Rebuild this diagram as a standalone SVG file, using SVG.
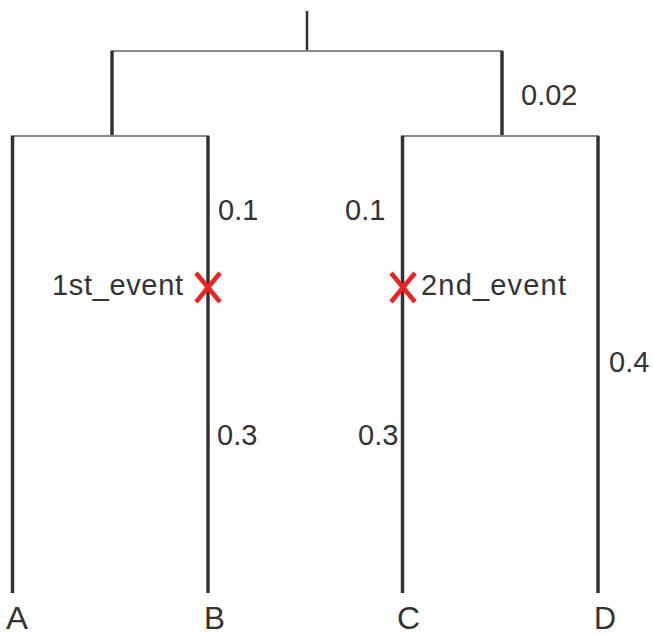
<svg xmlns="http://www.w3.org/2000/svg" width="653" height="636" viewBox="0 0 653 636">
<style>
.v{stroke:#333;stroke-width:3.5;fill:none}
.h{stroke:#888;stroke-width:2;fill:none}
.t{font-family:"Liberation Sans",Arial,sans-serif;font-size:29px;fill:#333}
.leaf{font-family:"Liberation Sans",Arial,sans-serif;font-size:32px;fill:#333}
.x{stroke:#ee2222;stroke-width:4.5;fill:none}
</style>
<rect width="653" height="636" fill="#fff"/>
<g id="connectors">
<line class="v" x1="307" y1="11" x2="307" y2="51" style="stroke-width:2.5"/>
<line class="h" x1="111" y1="51" x2="503" y2="51"/>
<line class="v" x1="112" y1="51" x2="112" y2="136"/>
<line class="v" x1="502" y1="51" x2="502" y2="136"/>
<line class="h" x1="11" y1="136" x2="209" y2="136"/>
<line class="h" x1="401" y1="136" x2="599" y2="136"/>
</g>
<g id="A"><line class="v" x1="12.5" y1="136" x2="12.5" y2="593"/><text class="leaf" x="6" y="629" textLength="22" lengthAdjust="spacingAndGlyphs">A</text></g>
<g id="B"><line class="v" x1="208" y1="136" x2="208" y2="593"/><text class="leaf" x="204" y="629" textLength="21" lengthAdjust="spacingAndGlyphs">B</text></g>
<g id="C"><line class="v" x1="402.5" y1="136" x2="402.5" y2="593"/><text class="leaf" x="397" y="629" textLength="23" lengthAdjust="spacingAndGlyphs">C</text></g>
<g id="D"><line class="v" x1="598" y1="136" x2="598" y2="593"/><text class="leaf" x="594" y="629" textLength="22" lengthAdjust="spacingAndGlyphs">D</text></g>
<g id="labels">
<text class="t" x="521" y="105">0.02</text>
<text class="t" x="218" y="220">0.1</text>
<text class="t" x="345" y="220">0.1</text>
<text class="t" x="52" y="295" textLength="131">1st_event</text>
<text class="t" x="421" y="295" textLength="145">2nd_event</text>
<text class="t" x="609" y="372">0.4</text>
<text class="t" x="217" y="445">0.3</text>
<text class="t" x="358" y="445">0.3</text>
</g>
<g id="event1"><path class="x" d="M196 273 L220 302 M220 273 L196 302"/></g>
<g id="event2"><path class="x" d="M391 273 L415 302 M415 273 L391 302"/></g>
</svg>
